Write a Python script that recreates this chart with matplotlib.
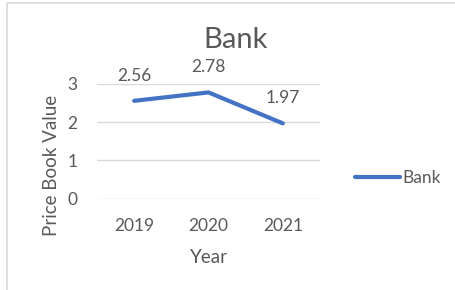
import matplotlib as ml
ml.use("Agg")
import matplotlib.pyplot as plt
from matplotlib.lines import Line2D

# data
years = ['2019', '2020', '2021']
pbv = [2.56, 2.78, 1.97]
series_name = 'Bank'
y_ticks = [0, 1, 2, 3]

BLUE = '#4472C4'
GRAY = '#595959'
GRID = '#D9D9D9'

plt.rcParams['font.family'] = ['Lato', 'DejaVu Sans']

fig = plt.figure(figsize=(4.56, 2.90), dpi=100)
# chart frame: only top and left edges are visible in the crop
fig.lines.append(Line2D([7/456, 7/456, 1.0], [0.0, 1 - 3/290, 1 - 3/290],
                        transform=fig.transFigure, color='#D9D9D9', linewidth=1.2))

ax = fig.add_axes([97/456, (290-198.7)/290, 223/456, (198.7-84)/290])
x = list(range(len(years)))
line, = ax.plot(x, pbv, color=BLUE, linewidth=3.0, solid_capstyle='round',
                solid_joinstyle='miter', label=series_name, zorder=3)

for xi, v in zip(x, pbv):
    ax.annotate('%.2f' % v, (xi, v), xytext=(0, 25), textcoords='offset pixels',
                ha='center', va='center', fontsize=12.5, color=GRAY)

ax.set_xlim(-0.5, len(years) - 0.5)
ax.set_ylim(0, 3)
ax.set_xticks(x)
ax.set_xticklabels(years)
ax.set_yticks(y_ticks)
ax.tick_params(length=0, labelsize=12.5, labelcolor=GRAY)
ax.tick_params(axis='x', pad=14)
ax.tick_params(axis='y', pad=14)
ax.yaxis.grid(True, color=GRID, linewidth=1)
ax.set_axisbelow(True)
for s in ax.spines.values():
    s.set_visible(False)

fig.text(236/456, 1 - 40/290, 'Bank', fontsize=21, color=GRAY, ha='center', va='center')
ax.set_xlabel('Year', fontsize=13.5, color=GRAY, labelpad=11)
ax.set_ylabel('Price Book Value', fontsize=13.5, color=GRAY)
ax.yaxis.set_label_coords(-37/223, (198.7-165)/(198.7-84))

leg = fig.legend(handles=[line], loc='center left', bbox_to_anchor=(339/456, 1 - 178/290),
                 frameon=False, fontsize=12.5, handlelength=2.6, handletextpad=0.15,
                 labelcolor=GRAY)

plt.savefig('out.png', dpi=100)
